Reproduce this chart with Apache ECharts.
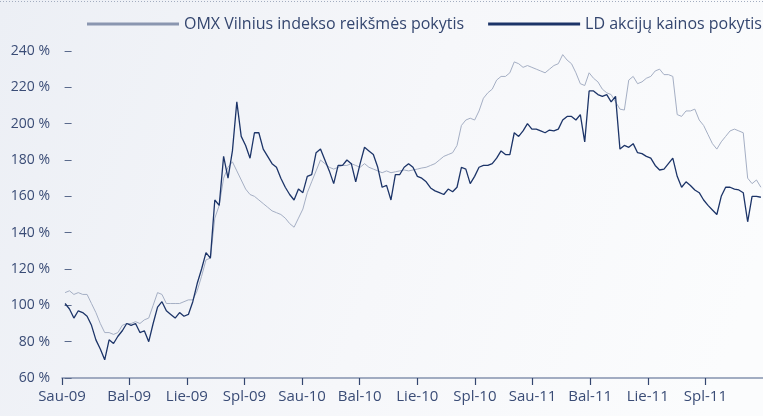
<!DOCTYPE html>
<html>
<head>
<meta charset="utf-8">
<script src="https://cdn.jsdelivr.net/npm/echarts@6/dist/echarts.min.js"></script>
<style>
  html, body { margin: 0; padding: 0; }
  #chart { width: 763px; height: 416px; }
</style>
</head>
<body>
<div id="chart"></div>
<script>
// ketvirčių žymės (x ašis, mėnesiais nuo 2009 sausio)
const quarterLabels = ['Sau-09', 'Bal-09', 'Lie-09', 'Spl-09', 'Sau-10', 'Bal-10', 'Lie-10', 'Spl-10', 'Sau-11', 'Bal-11', 'Lie-11', 'Spl-11'];
const quarterPos = [-0.5, 3, 6, 9, 12, 15, 18, 21, 24, 27, 30, 33];

// savaitiniai taškai
const weekStart = -0.34;
const weekStep = 0.2293;

// OMX Vilnius indekso reikšmės pokytis, %
const omx = [107, 108, 106, 107, 106, 106, 101, 96, 90, 85,
  85, 84, 85, 89, 90, 90, 91, 90, 92, 93,
  100, 107, 106, 101, 101, 101, 101, 102, 103, 103,
  108, 116, 125, 126, 148, 155, 170, 176, 179, 174,
  169, 164, 161, 160, 158, 156, 154, 152, 151, 150,
  148, 145, 143, 148, 153, 162, 168, 174, 180, 178,
  176, 175, 176, 177, 177, 178, 177, 176, 178, 176,
  175, 174, 173, 174, 173, 173.5, 174, 174.5, 174, 174.5,
  175, 175.6, 176, 177, 178, 180, 182, 183, 184, 188,
  199, 202, 203, 202, 207, 214, 217, 219, 224, 226,
  226, 228, 234, 233, 231, 232, 231, 230, 229, 228,
  230, 232, 233, 238, 235, 233, 228, 222, 221, 228,
  225, 223, 219, 217, 216, 212, 208, 207.5, 224, 226,
  222, 223, 225, 226, 229, 230, 227, 227, 226, 205,
  204, 207, 207, 208, 202, 199, 194, 189, 186, 190,
  193, 196, 197, 196, 195, 170, 167, 169, 165];

// LD akcijų kainos pokytis, %
const ld = [101, 98, 93, 97, 96, 94, 89, 81, 76, 70,
  81, 79, 83, 86, 90, 89, 90, 85, 86, 80,
  90, 99, 102, 97, 95, 93, 96, 94, 95, 102,
  112, 120, 129, 126, 158, 155, 182, 170, 185, 212,
  193, 188, 181, 195, 195, 186, 182, 178, 176, 170,
  165, 161, 158, 164, 162, 171, 172, 184, 186, 180,
  174, 167, 177, 177, 180, 178, 168, 178, 187, 185,
  183, 176, 165, 166, 158, 172, 172, 176, 178, 176,
  171, 170, 168, 164.6, 163, 162, 161, 164, 162.5, 165,
  176, 175, 167, 171, 176, 177, 177, 178, 181, 185,
  183, 183, 195, 193, 196, 200, 197, 197, 196, 195,
  196.5, 196, 197, 202, 204, 204, 202, 205, 190, 218,
  218, 216, 215, 216, 212, 215, 186, 188, 187, 189,
  184, 183.5, 182, 181, 177, 174.5, 175, 178, 181, 171,
  165, 168, 166, 163.5, 162, 158, 155, 152.5, 150, 160,
  165, 165, 164, 163.5, 162, 146, 160, 160, 159.5];

const toPairs = arr => arr.map((v, i) => [weekStart + i * weekStep, v]);

const chart = echarts.init(document.getElementById('chart'));
const font = 'Open Sans';

chart.setOption({
  animation: false,
  backgroundColor: {
    type: 'linear', x: 0, y: 0, x2: 1, y2: 0.6,
    colorStops: [
      { offset: 0, color: '#eceff5' },
      { offset: 0.55, color: '#f6f7fa' },
      { offset: 1, color: '#fbfcfd' }
    ]
  },
  graphic: [{
    type: 'line',
    shape: { x1: 0, y1: 1.5, x2: 763, y2: 1.5 },
    style: { stroke: '#a3adc0', lineWidth: 1, lineDash: [1, 2] }
  }],
  legend: {
    left: 87,
    top: 16,
    width: 690,
    padding: 0,
    itemWidth: 92,
    itemHeight: 3,
    itemGap: 24,
    icon: 'rect',
    textStyle: { color: '#34466f', fontSize: 16, fontFamily: font },
    data: [
      { name: 'OMX Vilnius indekso reikšmės pokytis', itemStyle: { color: '#8a96b0' } },
      { name: 'LD akcijų kainos pokytis', itemStyle: { color: '#1c3468' } }
    ]
  },
  grid: { left: 62, right: 0, top: 51, bottom: 38 },
  xAxis: {
    type: 'value',
    min: -0.5,
    max: 36,
    splitLine: { show: false },
    axisLine: { lineStyle: { color: '#8592ae', width: 1.5 } },
    axisTick: {
      length: 7,
      customValues: quarterPos,
      lineStyle: { color: '#34466f', width: 1.2 }
    },
    axisLabel: {
      customValues: quarterPos,
      color: '#3a4c76',
      fontSize: 15,
      fontFamily: font,
      margin: 11,
      formatter: v => quarterLabels[quarterPos.indexOf(v)] || ''
    }
  },
  yAxis: {
    type: 'value',
    min: 60,
    max: 240,
    interval: 20,
    splitLine: { show: false },
    axisLine: { show: false },
    axisTick: { show: true, length: 7, lineStyle: { color: '#5a6a8c' } },
    axisLabel: {
      color: '#3a4c76',
      fontSize: 14,
      fontFamily: font,
      margin: 12,
      formatter: '{value} %'
    }
  },
  series: [
    {
      name: 'OMX Vilnius indekso reikšmės pokytis',
      type: 'line',
      symbol: 'none',
      data: toPairs(omx),
      lineStyle: { color: '#a5afc4', width: 1 },
      itemStyle: { color: '#8a96b0' },
      z: 2
    },
    {
      name: 'LD akcijų kainos pokytis',
      type: 'line',
      symbol: 'none',
      data: toPairs(ld),
      lineStyle: { color: '#1c3468', width: 1.3 },
      itemStyle: { color: '#1c3468' },
      z: 3
    }
  ]
});
</script>
</body>
</html>
